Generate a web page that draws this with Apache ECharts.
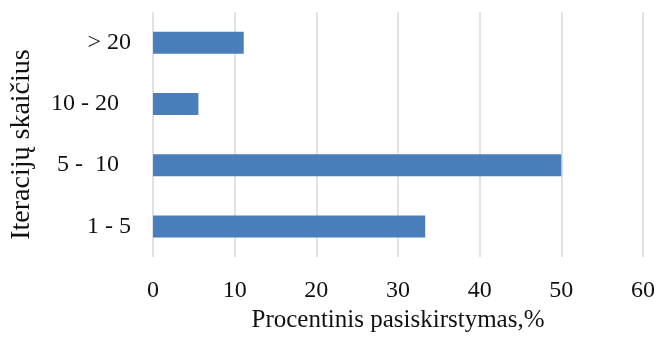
<!DOCTYPE html>
<html>
<head>
<meta charset="utf-8">
<script src="https://cdn.jsdelivr.net/npm/echarts@6/dist/echarts.min.js"></script>
<style>
  html, body { margin: 0; padding: 0; background: #fff; }
  #chart { width: 658px; height: 338px; }
</style>
</head>
<body>
<div id="chart"></div>
<script>
// Iteration-count groups (bottom to top) and their share in percent
const categories = ['1 - 5', '5 -  10  ', '10 - 20  ', '> 20'];
const shares = [33.33, 50, 5.56, 11.11];
const xTicks = { min: 0, max: 60, interval: 10 };

const FONT = '"Liberation Serif", "Times New Roman", serif';
const chart = echarts.init(document.getElementById('chart'), null, { renderer: 'canvas' });

chart.setOption({
  animation: false,
  backgroundColor: '#ffffff',
  grid: { left: 152, right: 13, top: 12, bottom: 79 },
  xAxis: {
    type: 'value',
    min: xTicks.min,
    max: xTicks.max,
    interval: xTicks.interval,
    name: 'Procentinis pasiskirstymas,%',
    nameLocation: 'middle',
    nameGap: 47,
    nameTextStyle: { fontFamily: FONT, fontSize: 25, color: '#111' },
    axisLine: { show: false },
    axisTick: { show: false },
    axisLabel: { fontFamily: FONT, fontSize: 24, color: '#111', margin: 22 },
    splitLine: { show: true, lineStyle: { color: '#d9d9d9', width: 1.5 } }
  },
  yAxis: {
    type: 'category',
    data: categories,
    name: 'Iteracijų skaičius',
    nameLocation: 'middle',
    nameGap: 117,
    nameTextStyle: { fontFamily: FONT, fontSize: 28, color: '#111', padding: [0, 20, 0, 0] },
    axisLine: { show: false },
    axisTick: { show: false },
    axisLabel: { fontFamily: FONT, fontSize: 24, color: '#111', margin: 22 },
    splitLine: { show: false }
  },
  series: [{
    type: 'bar',
    data: shares,
    barWidth: 22,
    itemStyle: { color: '#4a7ebb' }
  }]
});
</script>
</body>
</html>
